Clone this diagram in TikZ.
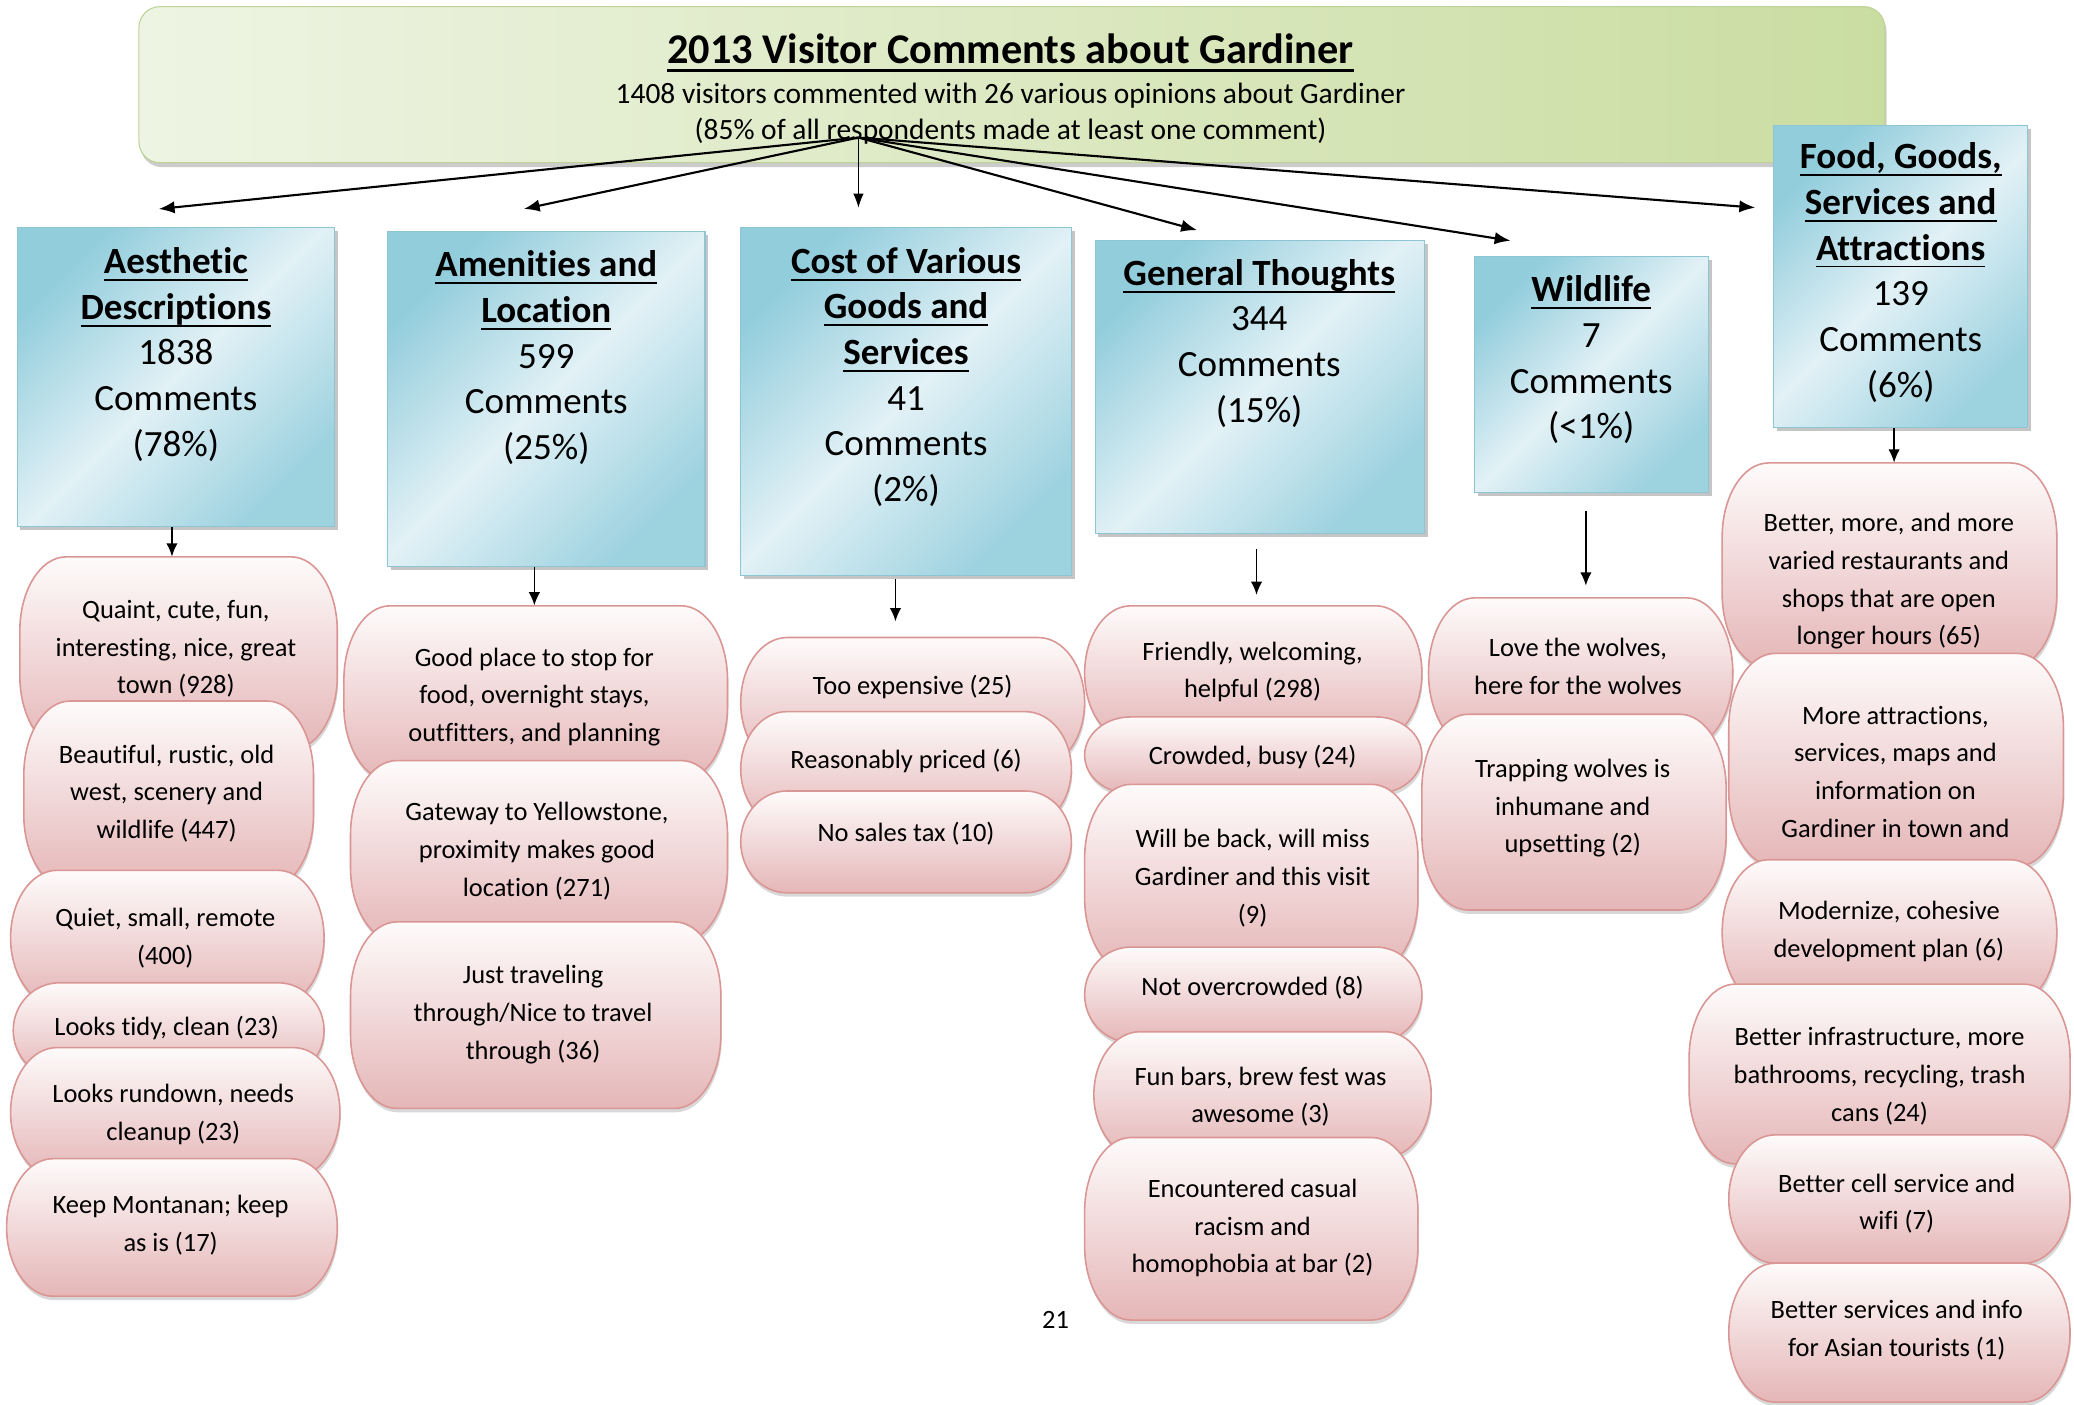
\documentclass[tikz,border=0pt]{standalone}
\usepackage{fontspec}
\setmainfont{Carlito}[Ligatures=NoCommon]
\usetikzlibrary{arrows.meta,shadows}
\definecolor{bluelt}{HTML}{E2F1F6}
\definecolor{bluedk}{HTML}{92CDDC}
\definecolor{blueln}{HTML}{8EC5D5}
\definecolor{pinklt}{HTML}{FEFBFB}
\definecolor{pinkdk}{HTML}{E5B6B7}
\definecolor{pinkln}{HTML}{D99694}
\definecolor{greenlt}{HTML}{EEF4E3}
\definecolor{greendk}{HTML}{CADDA1}
\definecolor{greenln}{HTML}{BDD295}

\newcommand\ulx[2][1.1pt]{\setbox0=\hbox{#2}\rlap{\copy0}\rule[-0.2em]{\wd0}{#1}}

\newcommand\bubnode[5]{%
  \pgfmathsetmacro\bubW{(#4-#2)*0.75}%
  \pgfmathsetmacro\bubH{(#5-#3)*0.75}%
  \pgfmathsetmacro\bubRy{min(56,(#5-#3)/2)}%
  \def\bubRx{35}%
  \pgfmathsetmacro\bubX{(#2+#4)/2}%
  \pgfmathsetmacro\bubY{(#3+#5)/2}%
  \node[inner sep=0pt,minimum width=\bubW pt,minimum height=\bubH pt] (#1) at (\bubX,\bubY) {};%
  \path[bubble] (#2+\bubRx,#3) -- (#4-\bubRx,#3)
    arc[start angle=270,end angle=360,x radius=\bubRx,y radius=\bubRy] -- (#4,#5-\bubRy)
    arc[start angle=0,end angle=90,x radius=\bubRx,y radius=\bubRy] -- (#2+\bubRx,#5)
    arc[start angle=90,end angle=180,x radius=\bubRx,y radius=\bubRy] -- (#2,#3+\bubRy)
    arc[start angle=180,end angle=270,x radius=\bubRx,y radius=\bubRy] -- cycle;%
}
\newcommand\catnode[5]{%
  \pgfmathsetmacro\bubW{(#4-#2)*0.75}%
  \pgfmathsetmacro\bubH{(#5-#3)*0.75}%
  \pgfmathsetmacro\bubX{(#2+#4)/2}%
  \pgfmathsetmacro\bubY{(#3+#5)/2}%
  \node[catbox,minimum width=\bubW pt,minimum height=\bubH pt] (#1) at (\bubX,\bubY) {};%
}

\begin{document}
\begin{tikzpicture}[x=0.75pt,y=-0.75pt,
  bubble/.style={draw=pinkln,line width=0.9pt,top color=pinklt,bottom color=pinkdk,
    drop shadow={shadow xshift=0.5pt,shadow yshift=-2.2pt,opacity=0.3,fill=gray}},
  catbox/.style={draw=blueln,line width=0.6pt,left color=bluedk,right color=bluedk!90,middle color=bluelt,
    shading angle=45,inner sep=0pt,
    drop shadow={shadow xshift=1.8pt,shadow yshift=-2pt,opacity=0.45,fill=gray}},
  banner/.style={draw=greenln,line width=0.6pt,left color=greenlt,right color=greendk,rounded corners=12pt,inner sep=0pt,
    drop shadow={shadow xshift=1pt,shadow yshift=-2.5pt,opacity=0.4,fill=gray}},
  btxt/.style={align=center,inner sep=0pt,font=\fontsize{15}{21.4}\selectfont},
  ctxt/.style={align=center,inner sep=0pt,font=\fontsize{21}{25.9}\selectfont},
  toparr/.style={line width=1.2pt,-{Latex[length=9pt,width=7pt]}},
  thinarr/.style={line width=0.6pt,-{Latex[length=8pt,width=6pt]}},
  darr/.style={line width=0.9pt,-{Latex[length=7.5pt,width=6.5pt]}}
]
\useasboundingbox[fill=white] (0,0) rectangle (1568,1062);

% banner
\node[banner,minimum width=990pt,minimum height=88.5pt] (banner) at (765,64) {};
\node[font=\bfseries\fontsize{24}{29}\selectfont,inner sep=0pt] (title) at (764,40)
  {\ulx[1.6pt]{2013 Visitor Comments about Gardiner}};
\node[font=\fontsize{16.7}{20}\selectfont,inner sep=0pt] (sub1) at (764,72)
  {1408 visitors commented with 26 various opinions about Gardiner};
\node[font=\fontsize{16.7}{20}\selectfont,inner sep=0pt] (sub2) at (764,99)
  {(85\% of all respondents made at least one comment)};

% category boxes
\catnode{A}{13}{172}{253}{398}
\node[ctxt] (At) at (133,268) {\textbf{\ulx{Aesthetic}}\\\textbf{\ulx{Descriptions}}\\1838\\Comments\\(78\%)};
\catnode{B}{293}{175}{533}{428}
\node[ctxt] (Bt) at (413,270.5) {\textbf{\ulx{Amenities and}}\\\textbf{\ulx{Location}}\\599\\Comments\\(25\%)};
\catnode{C}{560}{172}{810}{435}
\node[ctxt] (Ct) at (685,285) {\textbf{\ulx{Cost of Various}}\\\textbf{\ulx{Goods and}}\\\textbf{\ulx{Services}}\\41\\Comments\\(2\%)};
\catnode{D}{828}{182}{1077}{403}
\node[ctxt] (Dt) at (952,259.5) {\textbf{\ulx{General Thoughts}}\\344\\Comments\\(15\%)};
\catnode{E}{1115}{194}{1292}{372}
\node[ctxt] (Et) at (1203,272) {\textbf{\ulx{Wildlife}}\\7\\Comments\\(<1\%)};
\catnode{F}{1341}{95}{1533}{323}
\node[ctxt] (Ft) at (1437,206) {\textbf{\ulx{Food, Goods,}}\\\textbf{\ulx{Services and}}\\\textbf{\ulx{Attractions}}\\139\\Comments\\(6\%)};

% arrows from banner
\coordinate (hub) at (649,104);
\coordinate (tA) at (120,158);
\coordinate (tB) at (396,158);
\coordinate (tC) at (649,157);
\coordinate (tD) at (905,174);
\coordinate (tE) at (1142,182);
\coordinate (tF) at (1327,157);
\draw[toparr] (hub) -- (tA);
\draw[toparr] (hub) -- (tB);
\draw[thinarr] (hub) -- (tC);
\draw[toparr] (hub) -- (tD);
\draw[toparr] (hub) -- (tE);
\draw[toparr] (hub) -- (tF);

% column A bubbles
\bubnode{a1}{15}{421}{255}{567}
\node[btxt] (a1t) at (133,490.5) {Quaint, cute, fun,\\interesting, nice, great\\town (928)};
\bubnode{a2}{18}{530}{237}{672}
\node[btxt] (a2t) at (126,600) {Beautiful, rustic, old\\west, scenery and\\wildlife (447)};
\bubnode{a3}{8}{658}{245}{760}
\node[btxt] (a3t) at (125,709) {Quiet, small, remote\\(400)};
\bubnode{a4}{10}{743}{245}{815}
\node[btxt] (a4t) at (126,777) {Looks tidy, clean (23)};
\bubnode{a5}{8}{792}{257}{890}
\node[btxt] (a5t) at (131,842.5) {Looks rundown, needs\\cleanup (23)};
\bubnode{a6}{5}{876}{255}{980}
\node[btxt] (a6t) at (129,926) {Keep Montanan; keep\\as is (17)};

% column B bubbles
\bubnode{b1}{260}{458}{550}{590}
\node[btxt] (b1t) at (404,527) {Good place to stop for\\food, overnight stays,\\outfitters, and planning};
\bubnode{b2}{265}{575}{550}{712}
\node[btxt] (b2t) at (406,643.5) {Gateway to Yellowstone,\\proximity makes good\\location (271)};
\bubnode{b3}{265}{697}{545}{838}
\node[btxt] (b3t) at (403,767) {Just traveling\\through/Nice to travel\\through (36)};

% column C bubbles
\bubnode{c1}{560}{482}{820}{580}
\node[btxt] (c1t) at (690,519) {Too expensive (25)};
\bubnode{c2}{560}{538}{810}{625}
\node[btxt] (c2t) at (685,575) {Reasonably priced (6)};
\bubnode{c3}{560}{598}{810}{675}
\node[btxt] (c3t) at (685,630) {No sales tax (10)};

% column D bubbles
\bubnode{d1}{820}{458}{1075}{560}
\node[btxt] (d1t) at (947,508) {Friendly, welcoming,\\helpful (298)};
\bubnode{d2}{820}{542}{1075}{600}
\node[btxt] (d2t) at (947,572) {Crowded, busy (24)};
\bubnode{d3}{820}{593}{1072}{735}
\node[btxt] (d3t) at (947,664) {Will be back, will miss\\Gardiner and this visit\\(9)};
\bubnode{d4}{820}{716}{1075}{788}
\node[btxt] (d4t) at (947,747) {Not overcrowded (8)};
\bubnode{d5}{827}{780}{1082}{875}
\node[btxt] (d5t) at (953,829) {Fun bars, brew fest was\\awesome (3)};
\bubnode{d6}{820}{860}{1072}{998}
\node[btxt] (d6t) at (947,928.5) {Encountered casual\\racism and\\homophobia at bar (2)};

% column E bubbles
\bubnode{e1}{1080}{452}{1310}{565}
\node[btxt] (e1t) at (1193,504) {Love the wolves,\\here for the wolves};
\bubnode{e2}{1075}{540}{1305}{688}
\node[btxt] (e2t) at (1189,611) {Trapping wolves is\\inhumane and\\upsetting (2)};

% column F bubbles
\bubnode{f1}{1302}{350}{1555}{505}
\node[btxt] (f1t) at (1428,439.5) {Better, more, and more\\varied restaurants and\\shops that are open\\longer hours (65)};
\bubnode{f2}{1307}{494}{1560}{655}
\node[btxt] (f2t) at (1433,583.5) {More attractions,\\services, maps and\\information on\\Gardiner in town and};
\bubnode{f3}{1302}{650}{1555}{760}
\node[btxt] (f3t) at (1428,704) {Modernize, cohesive\\development plan (6)};
\bubnode{f4}{1277}{744}{1565}{880}
\node[btxt] (f4t) at (1421,813.5) {Better infrastructure, more\\bathrooms, recycling, trash\\cans (24)};
\bubnode{f5}{1307}{858}{1565}{955}
\node[btxt] (f5t) at (1434,910) {Better cell service and\\wifi (7)};
\bubnode{f6}{1307}{955}{1565}{1060}
\node[btxt] (f6t) at (1434,1005.5) {Better services and info\\for Asian tourists (1)};

% arrows from boxes to bubbles
\draw[darr] ([xshift=-2.25pt]A.south) -- ([xshift=-2.25pt]A.south |- a1.north);
\draw[darr] ([xshift=-6.75pt]B.south) -- ([xshift=-6.75pt]B.south |- b1.north);
\draw[darr,shorten <=1.5pt,shorten >=9pt] ([xshift=-6pt]C.south) -- ([xshift=-6pt]C.south |- c1.north);
\draw[darr,shorten <=9pt,shorten >=6pt] ([xshift=-1.9pt]D.south) -- ([xshift=-1.9pt]D.south |- d1.north);
\draw[darr,shorten <=10.5pt,shorten >=6.75pt] ([xshift=-3.4pt]E.south) -- ([xshift=-3.4pt]E.south |- e1.north);
\draw[darr] ([xshift=-3.75pt]F.south) -- ([xshift=-3.75pt]F.south |- f1.north);

% page number
\node[font=\fontsize{15}{18}\selectfont,inner sep=0pt] (pg) at (798,998) {21};
\end{tikzpicture}
\end{document}
